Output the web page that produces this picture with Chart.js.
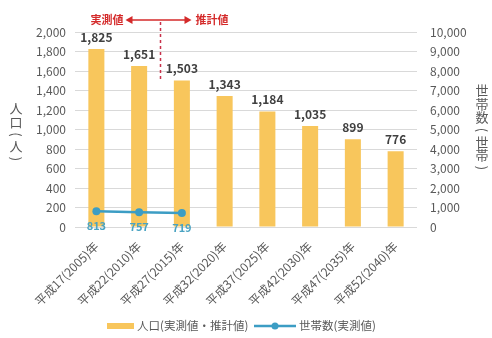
<!DOCTYPE html>
<html>
<head>
<meta charset="utf-8">
<script src="https://cdn.jsdelivr.net/npm/chart.js@4"></script>
<style>
  html, body { margin: 0; padding: 0; background: #fff; }
  #wrap { width: 492px; height: 338px; position: relative; }
</style>
</head>
<body>
<div id="wrap"><canvas id="chart"></canvas></div>
<script>
// Data
const categories = ['平成17(2005)年', '平成22(2010)年', '平成27(2015)年', '平成32(2020)年',
                    '平成37(2025)年', '平成42(2030)年', '平成47(2035)年', '平成52(2040)年'];
const population = [1825, 1651, 1503, 1343, 1184, 1035, 899, 776];
const households = [813, 757, 719, null, null, null, null, null];
const popLabel = '人口(実測値・推計値)';
const hhLabel = '世帯数(実測値)';
const leftTitle = '人口(人)';
const rightTitle = '世帯数(世帯)';

const FONT = '"Noto Sans CJK JP", "Noto Sans", sans-serif';
const BAR_COLOR = '#F8C65C';
const LINE_COLOR = '#3C9DC4';
const TEXT_GRAY = '#595959';
const RED = '#D42A2A';

const fmt = v => v.toLocaleString('en-US');

// Custom drawing: value labels, annotation, vertical titles, legend
const extras = {
    id: 'extras',
    afterDatasetsDraw(chart) {
        const c = chart.ctx;
        const x = chart.scales.x;
        c.save();

        // bar values
        c.font = 'bold 12px ' + FONT;
        c.fillStyle = '#404040';
        c.textAlign = 'center';
        c.textBaseline = 'bottom';
        chart.getDatasetMeta(0).data.forEach((bar, i) => {
            c.fillText(fmt(population[i]), bar.x, bar.y - 6);
        });

        // household values
        c.font = 'bold 11px ' + FONT;
        c.fillStyle = '#4AA3C2';
        c.textBaseline = 'middle';
        chart.getDatasetMeta(1).data.forEach((pt, i) => {
            if (households[i] == null) return;
            c.fillText(fmt(households[i]), pt.x, pt.y + 15);
        });

        // actual / projected annotation
        const divX = (x.getPixelForValue(1) + x.getPixelForValue(2)) / 2;
        c.strokeStyle = '#C8304A';
        c.lineWidth = 1.5;
        c.setLineDash([3, 3]);
        c.beginPath();
        c.moveTo(divX, 22);
        c.lineTo(divX, 82);
        c.stroke();
        c.setLineDash([]);

        const ay = 20;
        const ax1 = divX - 35, ax2 = divX + 31;
        c.strokeStyle = RED;
        c.fillStyle = RED;
        c.lineWidth = 1.5;
        c.beginPath();
        c.moveTo(ax1 + 4, ay);
        c.lineTo(ax2 - 4, ay);
        c.stroke();
        c.beginPath();
        c.moveTo(ax1, ay); c.lineTo(ax1 + 7, ay - 4); c.lineTo(ax1 + 7, ay + 4); c.closePath();
        c.fill();
        c.beginPath();
        c.moveTo(ax2, ay); c.lineTo(ax2 - 7, ay - 4); c.lineTo(ax2 - 7, ay + 4); c.closePath();
        c.fill();
        c.font = 'bold 11px ' + FONT;
        c.textBaseline = 'middle';
        c.textAlign = 'right';
        c.fillText('実測値', ax1 - 2, ay);
        c.textAlign = 'left';
        c.fillText('推計値', ax2 + 4, ay);

        // vertical axis titles: one character per row, brackets turned
        c.fillStyle = TEXT_GRAY;
        c.textBaseline = 'middle';
        c.textAlign = 'center';
        const vtext = (str, cx, topY) => {
            c.font = '13px ' + FONT;
            let y = topY;
            for (const ch of str) {
                if (ch === '(' || ch === ')') {
                    c.save();
                    c.translate(cx, y + 5.5);
                    c.rotate(Math.PI / 2);
                    c.fillText(ch, 0, 0);
                    c.restore();
                    y += 11;
                } else {
                    c.fillText(ch, cx, y + 6.5);
                    y += 13.5;
                }
            }
        };
        vtext(leftTitle, 16, 102);
        vtext(rightTitle, 482, 84);

        // legend
        const ly = 326;
        c.font = '11.5px ' + FONT;
        c.textBaseline = 'middle';
        c.textAlign = 'left';
        c.fillStyle = BAR_COLOR;
        c.fillRect(107, ly - 3, 27, 6);
        c.fillStyle = TEXT_GRAY;
        c.fillText(popLabel, 137, ly);
        c.strokeStyle = LINE_COLOR;
        c.lineWidth = 2.5;
        c.beginPath();
        c.moveTo(254, ly);
        c.lineTo(296, ly);
        c.stroke();
        c.fillStyle = LINE_COLOR;
        c.beginPath();
        c.arc(275, ly, 3.5, 0, Math.PI * 2);
        c.fill();
        c.fillStyle = TEXT_GRAY;
        c.fillText(hhLabel, 299, ly);

        c.restore();
    }
};

new Chart(document.getElementById('chart'), {
    type: 'bar',
    data: {
        labels: categories,
        datasets: [{
            label: popLabel,
            data: population,
            backgroundColor: BAR_COLOR,
            barPercentage: 0.75,
            categoryPercentage: 0.5,
            yAxisID: 'y',
            order: 2
        }, {
            type: 'line',
            label: hhLabel,
            data: households,
            borderColor: LINE_COLOR,
            backgroundColor: LINE_COLOR,
            borderWidth: 2.5,
            pointRadius: 4,
            pointBackgroundColor: LINE_COLOR,
            pointBorderWidth: 0,
            spanGaps: false,
            yAxisID: 'y2',
            order: 1
        }]
    },
    options: {
        responsive: true,
        maintainAspectRatio: false,
        animation: false,
        layout: { padding: { top: 32, bottom: 30, left: 0, right: 0 } },
        plugins: { legend: { display: false }, tooltip: { enabled: false } },
        scales: {
            x: {
                grid: { display: false },
                border: { display: false },
                ticks: {
                    color: TEXT_GRAY,
                    font: { family: FONT, size: 12 },
                    maxRotation: 45, minRotation: 45,
                    padding: 4,
                    autoSkip: false
                },
                afterFit(s) { s.height = 81; }
            },
            y: {
                position: 'left',
                min: 0, max: 2000,
                grid: { color: '#D9D9D9', drawTicks: false },
                border: { display: false },
                ticks: {
                    stepSize: 200,
                    color: TEXT_GRAY,
                    font: { family: FONT, size: 12 },
                    padding: 9,
                    callback: v => fmt(v)
                },
                afterFit(s) { s.width = 75; }
            },
            y2: {
                position: 'right',
                min: 0, max: 10000,
                grid: { display: false, drawTicks: false },
                border: { display: false },
                ticks: {
                    stepSize: 1000,
                    color: TEXT_GRAY,
                    font: { family: FONT, size: 12 },
                    padding: 13,
                    callback: v => fmt(v)
                },
                afterFit(s) { s.width = 75; }
            }
        }
    },
    plugins: [extras]
});
</script>
</body>
</html>
